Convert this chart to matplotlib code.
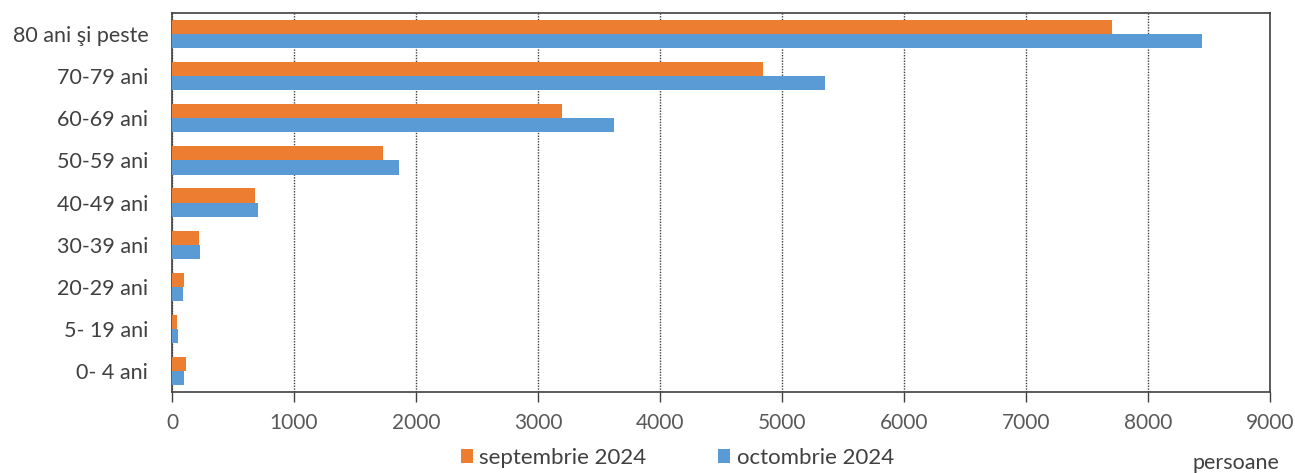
import matplotlib.pyplot as plt
import numpy as np

# age groups, bottom to top
groups = ['0- 4 ani', '5- 19 ani', '20-29 ani', '30-39 ani', '40-49 ani',
          '50-59 ani', '60-69 ani', '70-79 ani', '80 ani şi peste']
sept = [112, 38, 96, 221, 680, 1730, 3200, 4845, 7700]
octo = [101, 46, 88, 230, 705, 1860, 3625, 5352, 8445]
series_names = ['septembrie 2024', 'octombrie 2024']

plt.rcParams['font.family'] = ['Lato', 'DejaVu Sans']

fig = plt.figure(figsize=(12.95, 4.73), dpi=100)
ax = fig.add_axes([0.1328, 0.1712, 0.848, 0.8013])

y = np.arange(len(groups))
h = 0.335
ax.barh(y + h / 2, sept, h, color='#ED7D31', label=series_names[0], zorder=3)
ax.barh(y - h / 2, octo, h, color='#5B9BD5', label=series_names[1], zorder=3)

ax.set_xlim(0, 9000)
ax.set_ylim(-0.5, len(groups) - 0.5)
ax.set_xticks(np.arange(0, 9001, 1000))
ax.set_yticks(y)
ax.set_yticklabels(groups)
ax.xaxis.grid(True, linestyle=(0, (1, 1)), color='#404040', linewidth=1, zorder=0)

for s in ax.spines.values():
    s.set_color('#404040')
    s.set_linewidth(1.2)

ax.tick_params(axis='x', length=7, width=1, color='#404040', labelsize=15,
               labelcolor='#595959', pad=8)
ax.tick_params(axis='y', length=0, labelsize=15.5, labelcolor='#404040', pad=17)

ax.legend(loc='center', bbox_to_anchor=(0.46, -0.174), ncol=2, frameon=False,
          fontsize=16, handlelength=0.55, handleheight=0.55, handletextpad=0.3,
          columnspacing=3.2, labelcolor='#404040', borderpad=0)
fig.text(0.988, 0.0, 'persoane', ha='right', va='bottom', fontsize=15.5, color='#404040')

fig.savefig('out.png', dpi=100)
